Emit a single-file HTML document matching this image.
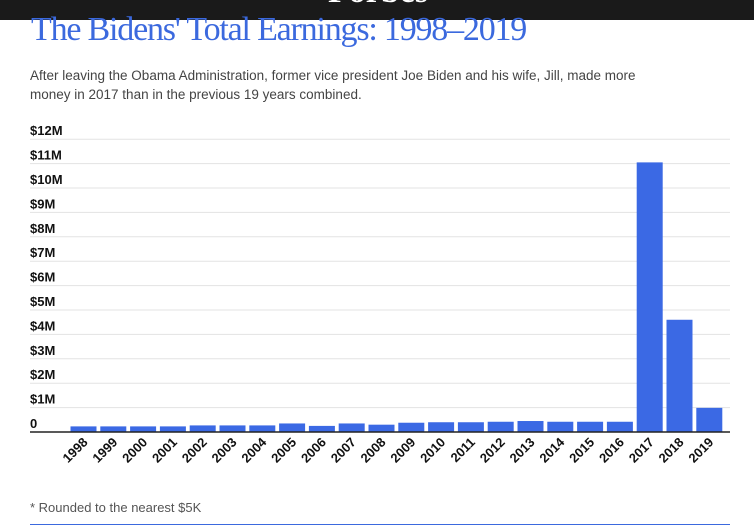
<!DOCTYPE html>
<html><head><meta charset="utf-8"><style>
body{margin:0;width:754px;height:529px;overflow:hidden;background:#fff;font-family:"Liberation Sans",sans-serif;position:relative}
#hdr{position:absolute;left:0;top:0;width:754px;height:20px;background:#1a1a1a;overflow:hidden}
#hdr span{position:absolute;left:328px;top:-27px;color:#fff;font:bold 34px "Liberation Serif",serif}
#title{position:absolute;left:31px;top:11px;color:#3b69de;font:34px "Liberation Serif",serif;letter-spacing:-1.2px;white-space:nowrap}
#sub{position:absolute;left:30px;top:66px;color:#444;font-size:13.5px;line-height:19px;width:642px}
#foot{position:absolute;left:30px;top:500px;color:#555;font-size:13px}
#rule{position:absolute;left:30px;top:524px;width:700px;height:1px;background:#3b69de}
svg{position:absolute;left:0;top:0}
</style></head><body>
<div id="hdr"><span>Forbes</span></div>
<div id="title">The Bidens' Total Earnings: 1998–2019</div>
<div id="sub">After leaving the Obama Administration, former vice president Joe Biden and his wife, Jill, made more money in 2017 than in the previous 19 years combined.</div>
<svg id="chart" width="754" height="529"></svg>
<div id="foot">* Rounded to the nearest $5K</div>
<div id="rule"></div>
<script>
const categories=["1998","1999","2000","2001","2002","2003","2004","2005","2006","2007","2008","2009","2010","2011","2012","2013","2014","2015","2016","2017","2018","2019"];
const earnings=[0.23,0.23,0.23,0.23,0.27,0.27,0.27,0.35,0.25,0.35,0.30,0.38,0.40,0.40,0.42,0.45,0.42,0.42,0.42,11.05,4.6,0.99];
const tickValues=[0,1,2,3,4,5,6,7,8,9,10,11,12];
const tickLabels=["0","$1M","$2M","$3M","$4M","$5M","$6M","$7M","$8M","$9M","$10M","$11M","$12M"];
const svg=document.getElementById('chart');const NS="http://www.w3.org/2000/svg";
const y0=432,pxPer=24.4,x0=70.5,pitch=29.8,bw=26;
const y=v=>y0-v*pxPer;const x=i=>x0+i*pitch;
function mk(t,a){const e=document.createElementNS(NS,t);for(const k in a)e.setAttribute(k,a[k]);svg.appendChild(e);return e;}
tickValues.forEach((v,i)=>{
 if(v>0){const g=mk('line',{x1:30,x2:730,y1:y(v),y2:y(v),stroke:'#e3e3e3','stroke-width':1});
 
 }
 const t=mk('text',{x:30,y:y(v)-4,'font-size':13,'font-weight':'bold',fill:'#111','font-family':'Liberation Sans Narrow, Liberation Sans, sans-serif'});
 t.textContent=tickLabels[i];
 
 
});
categories.forEach((c,i)=>{
 const r=mk('rect',{x:x(i),y:y(earnings[i]),width:bw,height:earnings[i]*pxPer,fill:'#3b69e4'});
 
 
 const cx=x(i)+bw/2+5,ty=y0+11;
 const t=mk('text',{x:cx,y:ty,'font-size':13,'font-weight':'bold',fill:'#111','text-anchor':'end',transform:`rotate(-45 ${cx} ${ty})`,'font-family':'Liberation Sans Narrow, Liberation Sans, sans-serif'});
 t.textContent=c;
 
 
});
const ax=mk('line',{x1:30,x2:730,y1:y0,y2:y0,stroke:'#222','stroke-width':1.5});


</script>
</body></html>
